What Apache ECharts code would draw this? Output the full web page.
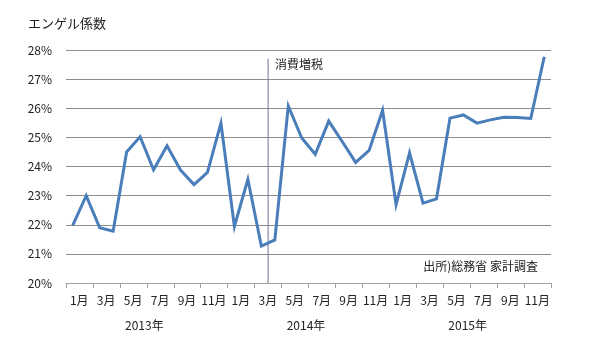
<!DOCTYPE html>
<html>
<head>
<meta charset="utf-8">
<script src="https://cdn.jsdelivr.net/npm/echarts@6/dist/echarts.min.js"></script>
<style>
  html, body { margin: 0; padding: 0; background: #fff; }
  #chart { width: 600px; height: 340px; }
</style>
</head>
<body>
<div id="chart"></div>
<script>
// Monthly Engel coefficient (%), Jan 2013 – Dec 2015
const years = ['2013年', '2014年', '2015年'];
const monthNames = ['1月', '2月', '3月', '4月', '5月', '6月', '7月', '8月', '9月', '10月', '11月', '12月'];
const engel2013 = [21.98, 23.0, 21.9, 21.78, 24.5, 25.02, 23.89, 24.71, 23.88, 23.38, 23.8, 25.49];
const engel2014 = [21.94, 23.56, 21.27, 21.48, 26.08, 24.98, 24.42, 25.56, 24.86, 24.14, 24.55, 25.93];
const engel2015 = [22.69, 24.47, 22.74, 22.89, 25.66, 25.77, 25.49, 25.6, 25.69, 25.68, 25.65, 27.77];
const yTicks = [20, 21, 22, 23, 24, 25, 26, 27, 28];
// consumption tax hike: start of April 2014, counted in months from Jan 2013
const taxHikeMonthStart = 15;
const taxHikeLineTop = 27.7;
const taxHikeLabel = '消費増税';
const sourceNote = '出所)総務省 家計調査';
const yTitle = 'エンゲル係数';

const months = [];
years.forEach(y => monthNames.forEach(m => months.push(y + m)));
const values = engel2013.concat(engel2014, engel2015);

const font = '"Noto Sans CJK JP", "Noto Sans", sans-serif';
const chart = echarts.init(document.getElementById('chart'), null, { renderer: 'canvas' });

chart.setOption({
  animation: false,
  backgroundColor: '#ffffff',
  textStyle: { fontFamily: font },
  grid: { left: 66, right: 49, top: 50, bottom: 57 },
  xAxis: [{
    type: 'category',
    data: months,
    boundaryGap: true,
    axisLine: { show: true, lineStyle: { color: '#a0a0a0', width: 1 } },
    axisTick: { show: true, interval: 1, length: 5, lineStyle: { color: '#a0a0a0' } },
    axisLabel: {
      interval: 1,
      margin: 11,
      color: '#222',
      fontSize: 12,
      fontFamily: font,
      padding: [0, 0, 0, 13],
      formatter: v => v.slice(5)
    },
    splitLine: { show: false }
  }, {
    type: 'category',
    data: years,
    position: 'bottom',
    offset: 27,
    boundaryGap: true,
    axisLine: { show: false },
    axisTick: { show: false },
    axisLabel: { color: '#222', fontSize: 12, fontFamily: font, margin: 9, padding: [0, 5, 0, 0] }
  }, {
    // continuous month scale used for the event marker
    type: 'value',
    min: 0,
    max: months.length,
    show: false
  }],
  yAxis: {
    type: 'value',
    min: yTicks[0],
    max: yTicks[yTicks.length - 1],
    interval: 1,
    axisLine: { show: false },
    axisTick: { show: false },
    axisLabel: { color: '#222', fontSize: 12, fontFamily: font, margin: 14, formatter: v => v + '%' },
    splitLine: { show: true, lineStyle: { color: '#8e8e8e', width: 1 } }
  },
  series: [{
    type: 'line',
    data: values,
    xAxisIndex: 0,
    symbol: 'none',
    lineStyle: { color: '#4a7ebb', width: 3, join: 'miter' }
  }, {
    type: 'line',
    xAxisIndex: 2,
    data: [[taxHikeMonthStart, yTicks[0]], [taxHikeMonthStart, taxHikeLineTop]],
    symbol: 'none',
    silent: true,
    lineStyle: { color: '#7a6a9a', width: 1 },
    z: 1
  }],
  graphic: [
    { type: 'text', left: 28, top: 17, style: { text: yTitle, font: '13px ' + font, fill: '#222' } },
    { type: 'text', left: 275, top: 58, style: { text: taxHikeLabel, font: '12px ' + font, fill: '#222' } },
    { type: 'text', right: 62, top: 260, style: { text: sourceNote, font: '12px ' + font, fill: '#222' } }
  ]
});
</script>
</body>
</html>
